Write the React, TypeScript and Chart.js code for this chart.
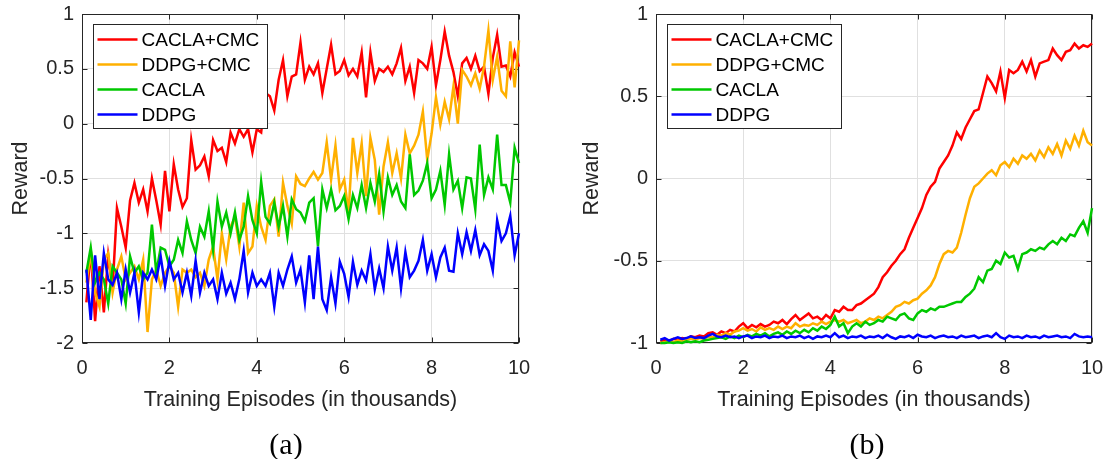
import React, { useEffect, useRef } from 'react';
import { Chart, registerables } from 'chart.js';

Chart.register(...registerables);

// ---------- data ----------
const episodes = [
  0.1, 0.2, 0.3, 0.4, 0.5, 0.6, 0.7, 0.8, 0.9, 1.0,
  1.1, 1.2, 1.3, 1.4, 1.5, 1.6, 1.7, 1.8, 1.9, 2.0,
  2.1, 2.2, 2.3, 2.4, 2.5, 2.6, 2.7, 2.8, 2.9, 3.0,
  3.1, 3.2, 3.3, 3.4, 3.5, 3.6, 3.7, 3.8, 3.9, 4.0,
  4.1, 4.2, 4.3, 4.4, 4.5, 4.6, 4.7, 4.8, 4.9, 5.0,
  5.1, 5.2, 5.3, 5.4, 5.5, 5.6, 5.7, 5.8, 5.9, 6.0,
  6.1, 6.2, 6.3, 6.4, 6.5, 6.6, 6.7, 6.8, 6.9, 7.0,
  7.1, 7.2, 7.3, 7.4, 7.5, 7.6, 7.7, 7.8, 7.9, 8.0,
  8.1, 8.2, 8.3, 8.4, 8.5, 8.6, 8.7, 8.8, 8.9, 9.0,
  9.1, 9.2, 9.3, 9.4, 9.5, 9.6, 9.7, 9.8, 9.9, 10.0,
];

const seriesNames = ['CACLA+CMC', 'DDPG+CMC', 'CACLA', 'DDPG'];
const seriesColors = ['#ff0000', '#ffb000', '#00c800', '#0000ff'];

const xTicks = [0, 2, 4, 6, 8, 10];
const yTicksA = [-2, -1.5, -1, -0.5, 0, 0.5, 1];
const yTicksB = [-1, -0.5, 0, 0.5, 1];

// panel (a)
const aCaclaCmc = [
  -1.63, -1.15, -1.8, -1.3, -1.72, -1.2, -1.5, -0.77, -0.94, -1.13,
  -0.7, -0.54, -0.72, -0.6, -0.8, -0.5, -0.7, -0.92, -0.43, -0.8,
  -0.37, -0.6, -0.76, -0.68, -0.15, -0.42, -0.38, -0.3, -0.48, -0.15,
  -0.25, -0.22, -0.35, -0.08, -0.18, -0.05, -0.12, -0.05, -0.26, -0.05,
  -0.08, 0.28, 0.25, 0.12, 0.4, 0.58, 0.25, 0.43, 0.45, 0.74,
  0.4, 0.52, 0.45, 0.55, 0.28, 0.5, 0.72, 0.45, 0.48, 0.58,
  0.44, 0.5, 0.43, 0.65, 0.24, 0.65, 0.39, 0.5, 0.47, 0.52,
  0.45, 0.55, 0.69, 0.39, 0.52, 0.28, 0.58, 0.55, 0.5, 0.7,
  0.35, 0.58, 0.84, 0.62, 0.47, 0.25, 0.55, 0.6, 0.5, 0.62,
  0.48, 0.52, 0.27, 0.6, 0.81, 0.52, 0.53, 0.43, 0.65, 0.52,
];
const aDdpgCmc = [
  -1.45, -1.18, -1.54, -1.67, -1.24, -1.18, -1.54, -1.33, -1.21, -1.42,
  -1.36, -1.3, -1.42, -1.24, -1.9, -1.42, -1.33, -1.48, -1.36, -1.3,
  -1.36, -1.67, -1.33, -1.36, -1.33, -1.4, -1.36, -1.48, -1.24, -1.12,
  -1.42, -1.0, -1.24, -0.94, -0.85, -1.12, -0.72, -1.18, -1.12, -0.75,
  -0.94, -1.06, -0.75, -0.69, -1.03, -0.54, -0.75, -0.91, -0.48, -0.55,
  -0.57, -0.5, -0.44, -0.51, -0.45, -0.17, -0.51, -0.2, -0.6, -0.51,
  -0.81, -0.13, -0.45, -0.18, -0.66, -0.13, -0.33, -0.83, -0.39, -0.17,
  -0.45, -0.27, -0.5, -0.1, -0.27, -0.2, -0.1, 0.11, -0.33, -0.09,
  0.24, -0.01, 0.2, 0.04, 0.34, 0.0, 0.49, 0.43, 0.35, 0.46,
  0.32, 0.52, 0.85, 0.4, 0.61, 0.3, 0.25, 0.75, 0.33, 0.76,
];
const aCacla = [
  -1.36, -1.13, -1.45, -1.36, -1.42, -1.64, -1.3, -1.36, -1.42, -1.64,
  -1.21, -1.36, -1.3, -1.42, -1.36, -0.92, -1.36, -1.13, -1.15, -1.3,
  -1.24, -1.06, -1.18, -0.89, -1.06, -1.18, -0.94, -1.03, -0.8, -1.15,
  -0.71, -0.94, -0.81, -1.0, -0.81, -1.06, -0.94, -0.66, -0.88, -1.0,
  -0.53, -0.85, -0.91, -0.72, -0.94, -0.75, -1.03, -0.69, -0.78, -0.81,
  -0.89, -0.72, -0.68, -1.12, -0.6, -0.77, -0.6, -0.79, -0.75, -0.66,
  -0.87, -0.65, -0.77, -0.56, -0.77, -0.54, -0.71, -0.46, -0.8, -0.49,
  -0.65, -0.56, -0.71, -0.77, -0.28, -0.65, -0.61, -0.52, -0.36, -0.68,
  -0.6, -0.43, -0.74, -0.28, -0.6, -0.52, -0.77, -0.49, -0.5, -0.78,
  -0.19, -0.65, -0.49, -0.6, -0.1, -0.56, -0.56, -0.72, -0.22, -0.36,
];
const aDdpg = [
  -1.33, -1.79, -1.2, -1.6, -1.18, -1.42, -1.47, -1.36, -1.6, -1.33,
  -1.54, -1.36, -1.72, -1.36, -1.42, -1.33, -1.42, -1.21, -1.48, -1.25,
  -1.42, -1.36, -1.54, -1.36, -1.57, -1.25, -1.54, -1.36, -1.48, -1.42,
  -1.6, -1.36, -1.55, -1.45, -1.6, -1.42, -1.16, -1.54, -1.36, -1.48,
  -1.42, -1.48, -1.36, -1.67, -1.36, -1.48, -1.33, -1.21, -1.45, -1.33,
  -1.63, -1.2, -1.6, -1.12, -1.6, -1.7, -1.4, -1.64, -1.26, -1.37,
  -1.58, -1.26, -1.47, -1.34, -1.43, -1.19, -1.51, -1.32, -1.5, -1.12,
  -1.34, -1.13, -1.5, -1.17, -1.4, -1.34, -1.25, -1.06, -1.34, -1.19,
  -1.4, -1.22, -1.13, -1.34, -1.35, -1.0, -1.19, -0.99, -1.16, -0.97,
  -1.2, -1.1, -1.16, -1.34, -0.88, -1.07, -1.0, -0.84, -1.2, -1.0,
];

// panel (b)
const bCaclaCmc = [
  -0.99, -0.98, -0.99, -0.975, -0.98, -0.97, -0.975, -0.96, -0.965, -0.955,
  -0.96, -0.94, -0.935, -0.95, -0.93, -0.94, -0.92, -0.93, -0.9, -0.88,
  -0.91, -0.89, -0.905, -0.885, -0.9, -0.89, -0.87, -0.88, -0.86, -0.885,
  -0.855, -0.83, -0.86, -0.84, -0.82, -0.85, -0.84, -0.86, -0.83, -0.85,
  -0.8, -0.81, -0.78, -0.8, -0.8, -0.77, -0.76, -0.74, -0.72, -0.7,
  -0.66, -0.6, -0.57, -0.53, -0.5, -0.46, -0.43, -0.36, -0.3, -0.24,
  -0.18, -0.1, -0.05, -0.02, 0.06, 0.1, 0.14, 0.2, 0.28, 0.24,
  0.31, 0.36, 0.41, 0.42, 0.52, 0.62, 0.58, 0.53, 0.65, 0.49,
  0.66, 0.64, 0.66, 0.71, 0.65, 0.72, 0.62, 0.7, 0.71, 0.72,
  0.79, 0.75, 0.72, 0.77, 0.78, 0.82, 0.79, 0.81, 0.8, 0.82,
];
const bDdpgCmc = [
  -1.0, -0.995, -0.99, -0.995, -0.985, -0.99, -0.98, -0.975, -0.98, -0.97,
  -0.975, -0.96, -0.965, -0.95, -0.955, -0.94, -0.95, -0.93, -0.925, -0.91,
  -0.925, -0.915, -0.93, -0.905, -0.92, -0.91, -0.92, -0.9, -0.915, -0.9,
  -0.91, -0.88, -0.9, -0.89, -0.895, -0.88, -0.89, -0.87, -0.885, -0.87,
  -0.86, -0.87, -0.86, -0.88, -0.87, -0.86, -0.88, -0.87, -0.85, -0.86,
  -0.84, -0.85, -0.83, -0.81, -0.78, -0.77, -0.75, -0.76, -0.74, -0.73,
  -0.7, -0.68, -0.65, -0.6, -0.52, -0.46, -0.44, -0.45, -0.42, -0.33,
  -0.22, -0.12, -0.05, -0.03, 0.0, 0.03, 0.05, 0.02, 0.08, 0.1,
  0.07, 0.12, 0.09, 0.14, 0.12, 0.15, 0.11, 0.17, 0.13, 0.19,
  0.15, 0.21, 0.14, 0.23, 0.18, 0.26, 0.2, 0.29, 0.22, 0.2,
];
const bCacla = [
  -1.0, -1.0, -0.995, -1.0, -0.995, -1.0, -0.99, -0.995, -0.99, -0.995,
  -0.985, -0.98, -0.975, -0.97, -0.965, -0.975, -0.96, -0.97, -0.955, -0.965,
  -0.95, -0.96, -0.945, -0.955, -0.94, -0.96, -0.945, -0.935, -0.95, -0.93,
  -0.945, -0.925, -0.94, -0.92, -0.935, -0.91, -0.925, -0.9, -0.915, -0.89,
  -0.84, -0.9, -0.88, -0.94, -0.9, -0.88, -0.9, -0.87, -0.89, -0.88,
  -0.86, -0.87, -0.84, -0.85, -0.86, -0.83, -0.82, -0.85, -0.86, -0.82,
  -0.8, -0.81, -0.79, -0.8, -0.78, -0.78, -0.77, -0.76, -0.75, -0.75,
  -0.72, -0.7, -0.67, -0.6, -0.63, -0.56, -0.55, -0.5, -0.52, -0.45,
  -0.48, -0.47, -0.55, -0.46, -0.45, -0.43, -0.44, -0.42, -0.43, -0.4,
  -0.38, -0.4, -0.36, -0.38, -0.34, -0.35, -0.3, -0.26, -0.33, -0.18,
];
const bDdpg = [
  -0.98, -0.97, -0.985, -0.975, -0.965, -0.975, -0.97, -0.96, -0.97, -0.965,
  -0.97, -0.955, -0.945, -0.96, -0.965, -0.955, -0.965, -0.96, -0.97, -0.96,
  -0.955, -0.97, -0.96, -0.965, -0.955, -0.97, -0.96, -0.965, -0.955, -0.97,
  -0.96, -0.965, -0.955, -0.97, -0.96, -0.975, -0.96, -0.965, -0.955, -0.965,
  -0.94, -0.965, -0.955, -0.97, -0.96, -0.965, -0.955, -0.97, -0.96, -0.965,
  -0.955, -0.97, -0.95, -0.965, -0.975, -0.96, -0.965, -0.955, -0.97, -0.95,
  -0.96, -0.965, -0.955, -0.97, -0.96, -0.955, -0.965, -0.96, -0.97, -0.955,
  -0.965, -0.96, -0.955, -0.97, -0.96, -0.955, -0.965, -0.94, -0.965, -0.975,
  -0.955, -0.965, -0.96, -0.97, -0.955, -0.965, -0.96, -0.97, -0.955, -0.965,
  -0.96, -0.955, -0.965, -0.96, -0.97, -0.945, -0.96, -0.965, -0.96, -0.965,
];

// ---------- styling ----------
const SANS = "'Liberation Sans', Arial, Helvetica, sans-serif";
const AXIS_COLOR = '#262626';
const GRID_COLOR = '#e0e0e0';

const framePlugin = {
  id: 'matlabFrame',
  beforeDatasetsDraw(chart: any) {
    const { ctx, chartArea: a, scales } = chart;
    ctx.save();
    ctx.strokeStyle = AXIS_COLOR;
    ctx.lineWidth = 1;
    const l = Math.round(a.left) + 0.5;
    const r = Math.round(a.right) - 0.5;
    const t = Math.round(a.top) + 0.5;
    const b = Math.round(a.bottom) - 0.5;
    ctx.strokeRect(l, t, r - l, b - t);
    const len = 5;
    ctx.beginPath();
    scales.x.ticks.forEach((tk: any) => {
      const px = Math.round(scales.x.getPixelForValue(tk.value)) + 0.5;
      ctx.moveTo(px, b);
      ctx.lineTo(px, b - len);
      ctx.moveTo(px, t);
      ctx.lineTo(px, t + len);
    });
    scales.y.ticks.forEach((tk: any) => {
      const py = Math.round(scales.y.getPixelForValue(tk.value)) + 0.5;
      ctx.moveTo(l, py);
      ctx.lineTo(l + len, py);
      ctx.moveTo(r, py);
      ctx.lineTo(r - len, py);
    });
    ctx.stroke();
    ctx.restore();
  },
};

const legendPlugin = {
  id: 'insideLegend',
  afterDatasetsDraw(chart: any) {
    const { ctx, chartArea: a } = chart;
    const bx = Math.round(a.left) + 11.5;
    const by = Math.round(a.top) + 10.5;
    const bw = 174;
    const bh = 104;
    ctx.save();
    ctx.fillStyle = '#ffffff';
    ctx.fillRect(bx, by, bw, bh);
    ctx.strokeStyle = AXIS_COLOR;
    ctx.lineWidth = 1;
    ctx.strokeRect(bx, by, bw, bh);
    ctx.font = `19px ${SANS}`;
    ctx.textBaseline = 'middle';
    ctx.textAlign = 'left';
    seriesNames.forEach((name, i) => {
      const cy = by + 15 + i * 25;
      ctx.strokeStyle = seriesColors[i];
      ctx.lineWidth = 2.5;
      ctx.beginPath();
      ctx.moveTo(bx + 4, cy);
      ctx.lineTo(bx + 44, cy);
      ctx.stroke();
      ctx.fillStyle = '#000000';
      ctx.fillText(name, bx + 48, cy + 1);
    });
    ctx.restore();
  },
};

function fmt(v: any) {
  const n = Math.round(Number(v) * 10) / 10;
  return String(n === 0 ? 0 : n);
}

type PanelProps = {
  left: number;
  width: number;
  yAxisWidth: number;
  rightPad: number;
  yTitlePad: number;
  yMin: number;
  yMax: number;
  yTicks: number[];
  series: number[][];
};

function Panel(p: PanelProps) {
  const ref = useRef<HTMLCanvasElement | null>(null);
  useEffect(() => {
    if (!ref.current) return;
    const datasets = p.series.map((vals, i) => ({
      label: seriesNames[i],
      data: vals.map((v, k) => ({ x: episodes[k], y: v })),
      borderColor: seriesColors[i],
      backgroundColor: seriesColors[i],
      borderWidth: 2.5,
      pointRadius: 0,
      tension: 0,
      fill: false,
      clip: false as any,
      order: 4 - i,
    }));
    const chart = new Chart(ref.current, {
      type: 'line',
      data: { datasets },
      options: {
        animation: false,
        responsive: false,
        maintainAspectRatio: false,
        layout: { padding: { left: 0, right: p.rightPad, top: 14, bottom: 0 } },
        plugins: { legend: { display: false }, tooltip: { enabled: false } },
        scales: {
          x: {
            type: 'linear',
            min: 0,
            max: 10,
            afterBuildTicks: (s: any) => {
              s.ticks = xTicks.map((v) => ({ value: v }));
            },
            afterFit: (s: any) => {
              s.height = 116;
              s.paddingLeft = 0;
              s.paddingRight = 0;
            },
            ticks: {
              padding: 13,
              color: AXIS_COLOR,
              font: { family: SANS, size: 20 },
              callback: (v: any) => fmt(v),
              maxRotation: 0,
            },
            grid: { color: GRID_COLOR, drawTicks: false },
            border: { display: false },
            title: {
              display: true,
              text: 'Training Episodes (in thousands)',
              color: AXIS_COLOR,
              font: { family: SANS, size: 21.5 },
              padding: { top: 0, bottom: 46 },
            },
          },
          y: {
            type: 'linear',
            min: p.yMin,
            max: p.yMax,
            afterBuildTicks: (s: any) => {
              s.ticks = p.yTicks.map((v) => ({ value: v }));
            },
            afterFit: (s: any) => {
              s.width = p.yAxisWidth;
              s.paddingTop = 0;
              s.paddingBottom = 0;
            },
            ticks: {
              padding: 8,
              color: AXIS_COLOR,
              font: { family: SANS, size: 20 },
              callback: (v: any) => fmt(v),
            },
            grid: { color: GRID_COLOR, drawTicks: false },
            border: { display: false },
            title: {
              display: true,
              text: 'Reward',
              color: AXIS_COLOR,
              font: { family: SANS, size: 21.5 },
              padding: { top: p.yTitlePad, bottom: 0 },
            },
          },
        },
      },
      plugins: [framePlugin, legendPlugin],
    });
    return () => chart.destroy();
  }, []);
  return (
    <canvas
      ref={ref}
      width={p.width}
      height={459}
      style={{ position: 'absolute', left: p.left, top: 0, width: p.width, height: 459 }}
    />
  );
}

const captionStyle = (cx: number): React.CSSProperties => ({
  position: 'absolute',
  left: cx - 50,
  top: 428,
  width: 100,
  textAlign: 'center',
  fontFamily: "'Liberation Serif', 'Times New Roman', serif",
  fontSize: 30,
  lineHeight: '32px',
  color: '#000',
});

export default function App() {
  return (
    <div
      style={{
        position: 'fixed',
        left: 0,
        top: 0,
        width: 1106,
        height: 459,
        background: '#ffffff',
        overflow: 'hidden',
      }}
    >
      <Panel
        left={0}
        width={553}
        yAxisWidth={82}
        rightPad={34}
        yTitlePad={8}
        yMin={-2}
        yMax={1}
        yTicks={yTicksA}
        series={[aCaclaCmc, aDdpgCmc, aCacla, aDdpg]}
      />
      <Panel
        left={553}
        width={553}
        yAxisWidth={103}
        rightPad={14}
        yTitlePad={26}
        yMin={-1}
        yMax={1}
        yTicks={yTicksB}
        series={[bCaclaCmc, bDdpgCmc, bCacla, bDdpg]}
      />
      <div style={captionStyle(286)}>(a)</div>
      <div style={captionStyle(867)}>(b)</div>
    </div>
  );
}
